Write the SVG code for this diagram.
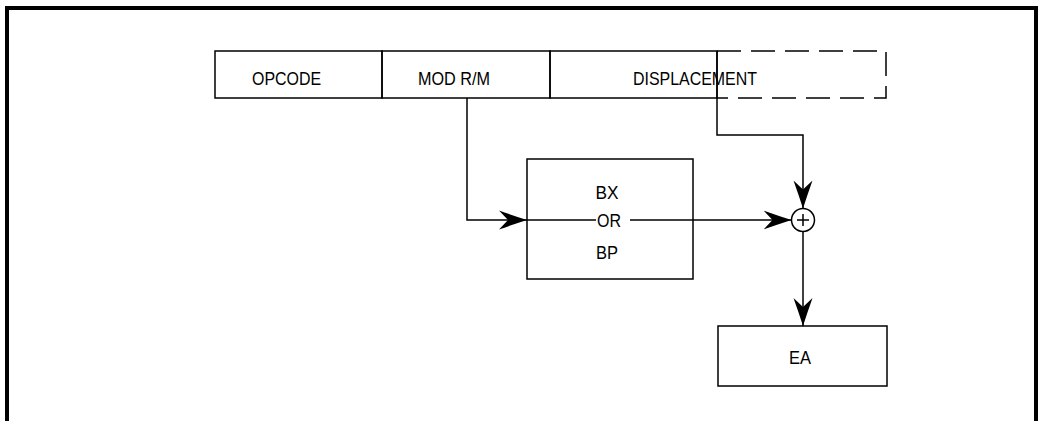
<svg xmlns="http://www.w3.org/2000/svg" width="1041" height="421" viewBox="0 0 1041 421">
<style>
.box{fill:none;stroke:#000;stroke-width:1.5}
.dash{fill:none;stroke:#000;stroke-width:1.5;stroke-dasharray:24 10}
.ln{fill:none;stroke:#000;stroke-width:1.5}
.t{font-family:"Liberation Sans",Arial,sans-serif;font-size:18px;fill:#000;text-anchor:middle}
</style>
<defs>
<marker id="arr" markerUnits="userSpaceOnUse" viewBox="0 -10 30 20" refX="28" refY="0" markerWidth="30" markerHeight="20" orient="auto">
<path d="M28,0 Q14,-4.5 0,-9.5 L9,0 L0,9.5 Q14,4.5 28,0 Z" fill="#000"/>
</marker>
</defs>
<rect width="1041" height="421" fill="#fff"/>
<path d="M7,421 V8 H1036 V421" fill="none" stroke="#000" stroke-width="4"/>
<g id="instruction">
<rect class="box" x="215" y="51" width="167" height="47"/>
<text class="t" x="286.5" y="85" textLength="69" lengthAdjust="spacingAndGlyphs">OPCODE</text>
<rect class="box" x="382" y="51" width="168" height="47"/>
<text class="t" x="454" y="85" textLength="72" lengthAdjust="spacingAndGlyphs">MOD R/M</text>
<rect class="box" x="550" y="51" width="167" height="47"/>
<path class="dash" d="M717,51 H886 V98 H717"/>
<text class="t" x="695" y="85" textLength="124" lengthAdjust="spacingAndGlyphs">DISPLACEMENT</text>
</g>
<g id="base-reg">
<rect class="box" x="527" y="159" width="166" height="120"/>
<text class="t" x="607" y="199" textLength="23" lengthAdjust="spacingAndGlyphs">BX</text>
<text class="t" x="609" y="226.5" textLength="24" lengthAdjust="spacingAndGlyphs">OR</text>
<text class="t" x="607" y="259" textLength="22" lengthAdjust="spacingAndGlyphs">BP</text>
</g>
<g id="adder">
<circle cx="803" cy="220" r="11.5" fill="#fff" stroke="#000" stroke-width="1.5"/>
<path class="ln" d="M797,220 H809 M803,214 V226"/>
</g>
<g id="ea">
<rect class="box" x="718" y="326" width="169" height="60"/>
<text class="t" x="800" y="364" textLength="22" lengthAdjust="spacingAndGlyphs">EA</text>
</g>
<g id="connectors">
<path class="ln" d="M467,98 V220 H527" marker-end="url(#arr)"/>
<path class="ln" d="M527,220 H596"/>
<path class="ln" d="M630,220 H791.5" marker-end="url(#arr)"/>
<path class="ln" d="M717,51 V135 H803 V208.5" marker-end="url(#arr)"/>
<path class="ln" d="M803,231.5 V326" marker-end="url(#arr)"/>
</g>
</svg>
